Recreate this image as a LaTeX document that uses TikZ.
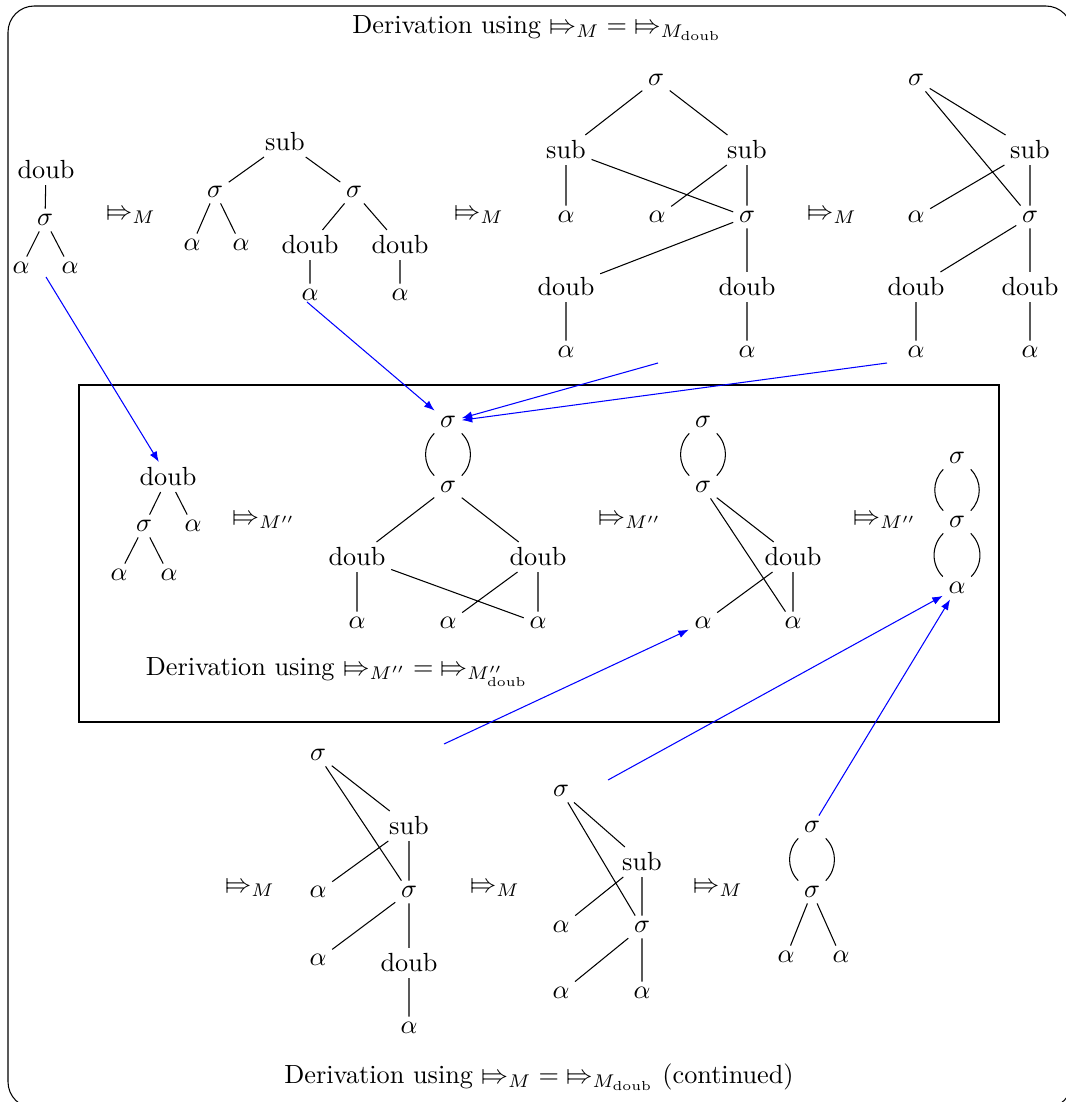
\documentclass[tikz,border=0pt]{standalone}
\usepackage{stmaryrd}
\usetikzlibrary{arrows.meta}
\newcommand{\dstep}[1]{${\Mapsto_{#1}}$}
\newcommand{\drel}[1]{{\Mapsto_{#1}}}
\begin{document}
\begin{tikzpicture}[x=0.381pt,y=-0.381pt,
  every node/.style={inner sep=2pt},
  tree/.style={line width=0.4pt},
  link/.style={blue, line width=0.4pt, -{Latex[length=4pt,width=3pt]}},
  frame/.style={draw, line width=0.4pt},
  lpar/.style={bend right=45},
  rpar/.style={bend left=45},
]
\useasboundingbox (0,0) rectangle (1065,1102);

% outer frame and captions
\draw[frame, rounded corners=10pt] (8,6) rectangle (1072,1108);
\node (title) at (537,28) {Derivation using $\drel{M} = \drel{M_{\mathrm{doub}}}$};
\node (captionB) at (539,1077) {Derivation using $\drel{M} = \drel{M_{\mathrm{doub}}}$ (continued)};

% inner frame
\draw[frame] (79,385) rectangle (999,722);
\node (captionM) at (337,672) {Derivation using $\drel{M''} = \drel{M''_{\mathrm{doub}}}$};

% ---------- first row ----------
% tree 1
\node (a1) at (46,170) {doub};
\node (a2) at (45,220) {$\sigma$};
\node (a3) at (21,268) {$\alpha$};
\node (a4) at (70,268) {$\alpha$};
\draw[tree] (a1) -- (a2) (a2) -- (a3) (a2) -- (a4);
\node (r1) at (131,217) {\dstep{M}};

% tree 2
\node (b1) at (285,142) {sub};
\node (b2) at (215,192) {$\sigma$};
\node (b3) at (354,192) {$\sigma$};
\node (b4) at (192,245) {$\alpha$};
\node (b5) at (241,245) {$\alpha$};
\node (b6) at (310,245) {doub};
\node (b7) at (400,245) {doub};
\node (b8) at (310,295) {$\alpha$};
\node (b9) at (400,295) {$\alpha$};
\draw[tree] (b1) -- (b2) (b1) -- (b3) (b2) -- (b4) (b2) -- (b5)
  (b3) -- (b6) (b3) -- (b7) (b6) -- (b8) (b7) -- (b9);
\node (r2) at (479,217) {\dstep{M}};

% tree 3
\node (c1) at (656,80) {$\sigma$};
\node (c2) at (566,150) {sub};
\node (c3) at (747,150) {sub};
\node (c4) at (566,217) {$\alpha$};
\node (c5) at (657,217) {$\alpha$};
\node (c6) at (747,217) {$\sigma$};
\node (c7) at (566,287) {doub};
\node (c8) at (747,287) {doub};
\node (c9) at (566,352) {$\alpha$};
\node (c10) at (747,352) {$\alpha$};
\draw[tree] (c1) -- (c2) (c1) -- (c3) (c2) -- (c4) (c2) -- (c6)
  (c3) -- (c5) (c3) -- (c6) (c6) -- (c7) (c6) -- (c8)
  (c7) -- (c9) (c8) -- (c10);
\node (r3) at (832,217) {\dstep{M}};

% tree 4
\node (d1) at (916,80) {$\sigma$};
\node (d2) at (1030,150) {sub};
\node (d3) at (916,217) {$\alpha$};
\node (d4) at (1030,217) {$\sigma$};
\node (d5) at (916,287) {doub};
\node (d6) at (1030,287) {doub};
\node (d7) at (916,352) {$\alpha$};
\node (d8) at (1030,352) {$\alpha$};
\draw[tree] (d1) -- (d2) (d1) -- (d4) (d2) -- (d3) (d2) -- (d4)
  (d4) -- (d5) (d4) -- (d6) (d5) -- (d7) (d6) -- (d8);

% ---------- inner derivation ----------
% tree M''1
\node (e1) at (168,477) {doub};
\node (e2) at (144,526) {$\sigma$};
\node (e3) at (193,526) {$\alpha$};
\node (e4) at (119,575) {$\alpha$};
\node (e5) at (169,575) {$\alpha$};
\draw[tree] (e1) -- (e2) (e1) -- (e3) (e2) -- (e4) (e2) -- (e5);
\node (s1) at (264,522) {\dstep{M''}};

% tree M''2
\node (f1) at (448,422) {$\sigma$};
\node (f2) at (448,487) {$\sigma$};
\node (f3) at (357,557) {doub};
\node (f4) at (538,557) {doub};
\node (f5) at (357,623) {$\alpha$};
\node (f6) at (448,623) {$\alpha$};
\node (f7) at (538,623) {$\alpha$};
\draw[tree] (f1.south west) to[lpar] (f2.north west)
  (f1.south east) to[rpar] (f2.north east);
\draw[tree] (f2) -- (f3) (f2) -- (f4) (f3) -- (f5) (f3) -- (f7)
  (f4) -- (f6) (f4) -- (f7);
\node (s2) at (630,522) {\dstep{M''}};

% tree M''3
\node (g1) at (703,422) {$\sigma$};
\node (g2) at (703,487) {$\sigma$};
\node (g3) at (793,557) {doub};
\node (g4) at (703,623) {$\alpha$};
\node (g5) at (793,623) {$\alpha$};
\draw[tree] (g1.south west) to[lpar] (g2.north west)
  (g1.south east) to[rpar] (g2.north east);
\draw[tree] (g2) -- (g3) (g2) -- (g5) (g3) -- (g4) (g3) -- (g5);
\node (s3) at (885,522) {\dstep{M''}};

% tree M''4
\node (h1) at (957,458) {$\sigma$};
\node (h2) at (957,522) {$\sigma$};
\node (h3) at (957,588) {$\alpha$};
\draw[tree] (h1.south west) to[lpar] (h2.north west)
  (h1.south east) to[rpar] (h2.north east)
  (h2.south west) to[lpar] (h3.north west)
  (h2.south east) to[rpar] (h3.north east);

% ---------- continued row ----------
\node (q1) at (250,890) {\dstep{M}};

% tree 5
\node (k1) at (318,755) {$\sigma$};
\node (k2) at (409,826) {sub};
\node (k3) at (318,892) {$\alpha$};
\node (k4) at (409,892) {$\sigma$};
\node (k5) at (318,960) {$\alpha$};
\node (k6) at (409,963) {doub};
\node (k7) at (409,1028) {$\alpha$};
\draw[tree] (k1) -- (k2) (k1) -- (k4) (k2) -- (k3) (k2) -- (k4)
  (k4) -- (k5) (k4) -- (k6) (k6) -- (k7);
\node (q2) at (495,890) {\dstep{M}};

% tree 6
\node (m1) at (561,791) {$\sigma$};
\node (m2) at (642,862) {sub};
\node (m3) at (561,927) {$\alpha$};
\node (m4) at (642,927) {$\sigma$};
\node (m5) at (561,993) {$\alpha$};
\node (m6) at (642,993) {$\alpha$};
\draw[tree] (m1) -- (m2) (m1) -- (m4) (m2) -- (m3) (m2) -- (m4)
  (m4) -- (m5) (m4) -- (m6);
\node (q3) at (718,890) {\dstep{M}};

% tree 7
\node (n1) at (812,827) {$\sigma$};
\node (n2) at (812,892) {$\sigma$};
\node (n3) at (786,957) {$\alpha$};
\node (n4) at (841,957) {$\alpha$};
\draw[tree] (n1.south west) to[lpar] (n2.north west)
  (n1.south east) to[rpar] (n2.north east)
  (n2) -- (n3) (n2) -- (n4);

% ---------- correspondence arrows ----------
\coordinate (p1) at (46,277);
\coordinate (p2) at (307,302);
\coordinate (p3) at (658,363);
\coordinate (p4) at (887,363);
\coordinate (p5) at (444,744);
\coordinate (p6) at (608,780);
\draw[link] (p1) -- (e1);
\draw[link] (p2) -- (f1);
\draw[link] (p3) -- (f1);
\draw[link] (p4) -- (f1);
\draw[link] (p5) -- (g4);
\draw[link] (p6) -- (h3);
\draw[link] (n1) -- (h3);
\end{tikzpicture}
\end{document}
